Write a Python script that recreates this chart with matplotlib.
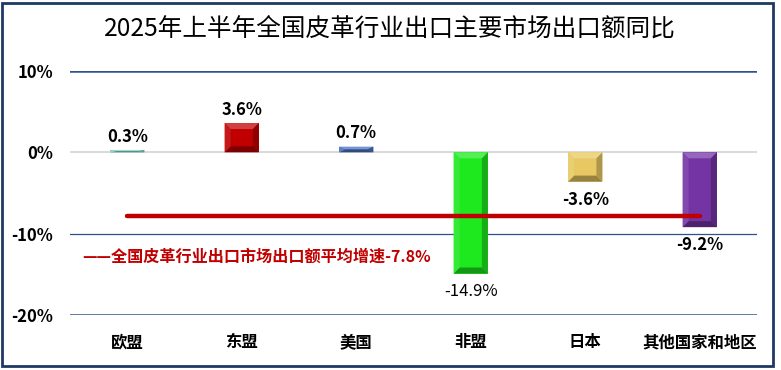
import numpy as np
import matplotlib.pyplot as plt
import matplotlib.colors as mcolors
from matplotlib.patches import Polygon, Rectangle

plt.rcParams['font.family'] = ['Noto Sans CJK SC', 'DejaVu Sans']

title = '2025年上半年全国皮革行业出口主要市场出口额同比'
markets = ['欧盟', '东盟', '美国', '非盟', '日本', '其他国家和地区']
growth = [0.3, 3.6, 0.7, -14.9, -3.6, -9.2]
colors = ['#7fcfc6', '#c00000', '#4a72c0', '#1ee81e', '#e8c862', '#7434a4']
avg = -7.8
avg_label = '——全国皮革行业出口市场出口额平均增速-7.8%'
yticks = [10, 0, -10, -20]

fig = plt.figure(figsize=(7.81, 3.70), dpi=100)
ax = fig.add_axes([70/781, 1-315/370, 687/781, 244/370])
x = np.arange(len(markets))
w = 0.3

ax.set_xlim(-0.5, len(markets)-0.5)
ax.set_ylim(-20, 10)

# grid lines
ax.axhline(10, color='#2f528f', lw=1.8, zorder=1)
ax.axhline(-20, color='#2f528f', lw=1.8, zorder=1)
ax.axhline(-10, color='#2f528f', lw=0.9, zorder=1)
ax.axhline(0, color='#d9d9d9', lw=1.4, zorder=1)

# bevelled bars
px_x = 687 / len(markets)   # pixels per x unit
px_y = 244 / 30             # pixels per y unit
inset = 6


def shade(c, f):
    r, g, b = mcolors.to_rgb(c)
    if f > 0:
        return (r + (1-r)*f, g + (1-g)*f, b + (1-b)*f)
    return (r*(1+f), g*(1+f), b*(1+f))


for xi, v, c in zip(x, growth, colors):
    x0, x1 = xi - w/2, xi + w/2
    y0, y1 = min(0, v), max(0, v)
    i = min(inset/px_x, w/2)
    j = min(inset/px_y, (y1-y0)/2)
    ax.add_patch(Rectangle((x0, y0), w, y1-y0, color=c, zorder=3, lw=0))
    faces = [
        ([(x0, y1), (x1, y1), (x1-i, y1-j), (x0+i, y1-j)], shade(c, 0.25)),
        ([(x0, y0), (x1, y0), (x1-i, y0+j), (x0+i, y0+j)], shade(c, -0.35)),
        ([(x0, y0), (x0, y1), (x0+i, y1-j), (x0+i, y0+j)], shade(c, 0.1)),
        ([(x1, y0), (x1, y1), (x1-i, y1-j), (x1-i, y0+j)], shade(c, -0.25)),
    ]
    for pts, fc in faces:
        ax.add_patch(Polygon(pts, closed=True, fc=fc, ec='none', zorder=3))
    if v >= 0:
        ax.annotate(f'{v}%', (xi, v), xytext=(0, 3), textcoords='offset points',
                    ha='center', va='bottom', fontsize=12, fontweight='bold')
    else:
        ax.annotate(f'{v}%', (xi, v), xytext=(0, -6.5), textcoords='offset points',
                    ha='center', va='top', fontsize=12,
                    fontweight='normal' if v < -12 else 'bold', zorder=5)

# average line
ax.plot([x[0], x[-1]], [avg, avg], color='#c00000', lw=3.2,
        solid_capstyle='round', zorder=4)
ax.text(-0.39, -12.8, avg_label, color='#c00000', fontsize=11.6,
        fontweight='bold', ha='left', va='center')

ax.set_xticks(x)
ax.set_xticklabels(markets, fontsize=11.8, fontweight='bold')
ax.set_yticks(yticks)
ax.set_yticklabels([f'{t}%' for t in yticks], fontsize=12, fontweight='bold')
ax.tick_params(length=0)
ax.tick_params(axis='x', pad=13)
ax.tick_params(axis='y', pad=12)
for s in ax.spines.values():
    s.set_visible(False)

fig.text(390/781, 1-30/370, title, ha='center', va='center', fontsize=17.7)

fig.add_artist(Rectangle((2/781, 4/370), 771/781, 363/370, transform=fig.transFigure,
                         fill=False, ec='#1f3864', lw=2))

fig.savefig('out.png', dpi=100)
